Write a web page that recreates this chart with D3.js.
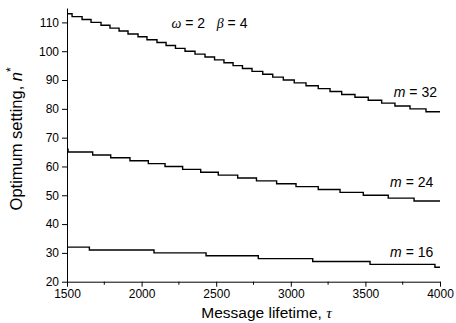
<!DOCTYPE html>
<html>
<head>
<meta charset="utf-8">
<script src="https://cdn.jsdelivr.net/npm/d3@7"></script>
<style>
  body { margin: 0; background: #fff; }
  svg text { font-family: "Liberation Sans", Arial, sans-serif; fill: #000; white-space: pre; }
</style>
</head>
<body>
<div id="chart"></div>
<script>
"use strict";

// step points (tau where the optimum n* changes, new value)
var tau32 = [1500, 1534, 1601, 1661, 1728, 1788, 1849, 1909, 1976, 2036, 2103, 2164, 2227, 2291, 2358, 2425, 2489, 2552, 2613, 2676, 2740, 2812, 2879, 2950, 3023, 3102, 3184, 3263, 3341, 3430, 3519, 3609, 3698, 3799, 3906, 4000];
var n32 = [113, 112, 111, 110, 109, 108, 107, 106, 105, 104, 103, 102, 101, 100, 99, 98, 97, 96, 95, 94, 93, 92, 91, 90, 89, 88, 87, 86, 85, 84, 83, 82, 81, 80, 79, 79];

var tau24 = [1500, 1507, 1672, 1793, 1922, 2045, 2157, 2275, 2396, 2514, 2644, 2770, 2905, 3035, 3184, 3330, 3486, 3653, 3826, 4000];
var n24 = [66, 65, 64, 63, 62, 61, 60, 59, 58, 57, 56, 55, 54, 53, 52, 51, 50, 49, 48, 48];

var tau16 = [1500, 1650, 2083, 2432, 2782, 3147, 3531, 3966, 4000];
var n16 = [32, 31, 30, 29, 28, 27, 26, 25, 25];

var xTicks = [1500, 2000, 2500, 3000, 3500, 4000];
var xMinor = [1750, 2250, 2750, 3250, 3750];
var yTicks = [20, 30, 40, 50, 60, 70, 80, 90, 100, 110];

var series = [
    { m: 32, tau: tau32, n: n32, label: { x: 3980, y: 84.2 } },
    { m: 24, tau: tau24, n: n24, label: { x: 3955, y: 53 } },
    { m: 16, tau: tau16, n: n16, label: { x: 3955, y: 28.7 } }
];

var W = 456, H = 323;
var margin = { top: 8, right: 16, bottom: 41.3, left: 67 };
var width = W - margin.left - margin.right;
var height = H - margin.top - margin.bottom;

var svg = d3.select("#chart")
    .append("svg")
    .attr("width", W)
    .attr("height", H)
    .append("g")
    .attr("transform", `translate(${margin.left},${margin.top})`);

// scales
var x = d3.scaleLinear().domain([1500, 4000]).range([0, width]);
var y = d3.scaleLinear().domain([20, 115]).range([height, 0]);

// axes
var gx = svg.append("g")
    .attr("transform", `translate(0,${height})`)
    .call(d3.axisBottom(x).tickValues(xTicks).tickSize(5).tickSizeOuter(0).tickPadding(3).tickFormat(d3.format("d")));

// minor ticks on x
svg.append("g")
    .attr("transform", `translate(0,${height})`)
    .selectAll("line")
    .data(xMinor)
    .join("line")
    .attr("x1", d => x(d))
    .attr("x2", d => x(d))
    .attr("y1", 0)
    .attr("y2", 3)
    .attr("stroke", "#000");

var gy = svg.append("g")
    .call(d3.axisLeft(y).tickValues(yTicks).tickSize(5).tickSizeOuter(0).tickPadding(3));

[gx, gy].forEach(g => {
    g.selectAll("text").style("font-size", "12px").attr("fill", "#000");
    g.selectAll("line, path").attr("stroke", "#000").attr("stroke-width", 1);
});

// lines
var line = d3.line()
    .x(d => x(d[0]))
    .y(d => y(d[1]))
    .curve(d3.curveStepAfter);

series.forEach(s => {
    var pts = s.tau.map((t, i) => [t, s.n[i]]);
    svg.append("path")
        .datum(pts)
        .attr("fill", "none")
        .attr("stroke", "#000")
        .attr("stroke-width", 1.4)
        .attr("d", line);

    var t = svg.append("text")
        .attr("x", x(s.label.x))
        .attr("y", y(s.label.y))
        .attr("text-anchor", "end")
        .style("font-size", "14px");
    t.append("tspan").style("font-style", "italic").text("m");
    t.append("tspan").text(" = " + s.m);
});

// parameters
var p = svg.append("text")
    .attr("x", x(2200))
    .attr("y", y(108.2))
    .style("font-size", "14px");
p.append("tspan").style("font-family", "'Liberation Serif', serif").style("font-style", "italic").text("ω");
p.append("tspan").text(" = 2   ");
p.append("tspan").style("font-family", "'Liberation Serif', serif").style("font-style", "italic").text("β");
p.append("tspan").text(" = 4");

// axis titles
var xt = svg.append("text")
    .attr("x", width / 2 + 13)
    .attr("y", height + 36)
    .attr("text-anchor", "middle")
    .style("font-size", "15.5px");
xt.append("tspan").text("Message lifetime, ");
xt.append("tspan").style("font-family", "'Liberation Serif', serif").style("font-style", "italic").text("τ");

var yt = svg.append("text")
    .attr("transform", `translate(${-45},${height / 2 - 6}) rotate(-90)`)
    .attr("text-anchor", "middle")
    .style("font-size", "16.5px");
yt.append("tspan").text("Optimum setting, ");
yt.append("tspan").style("font-style", "italic").text("n");
yt.append("tspan").attr("dy", -7).style("font-size", "12px").text("*");
</script>
</body>
</html>
